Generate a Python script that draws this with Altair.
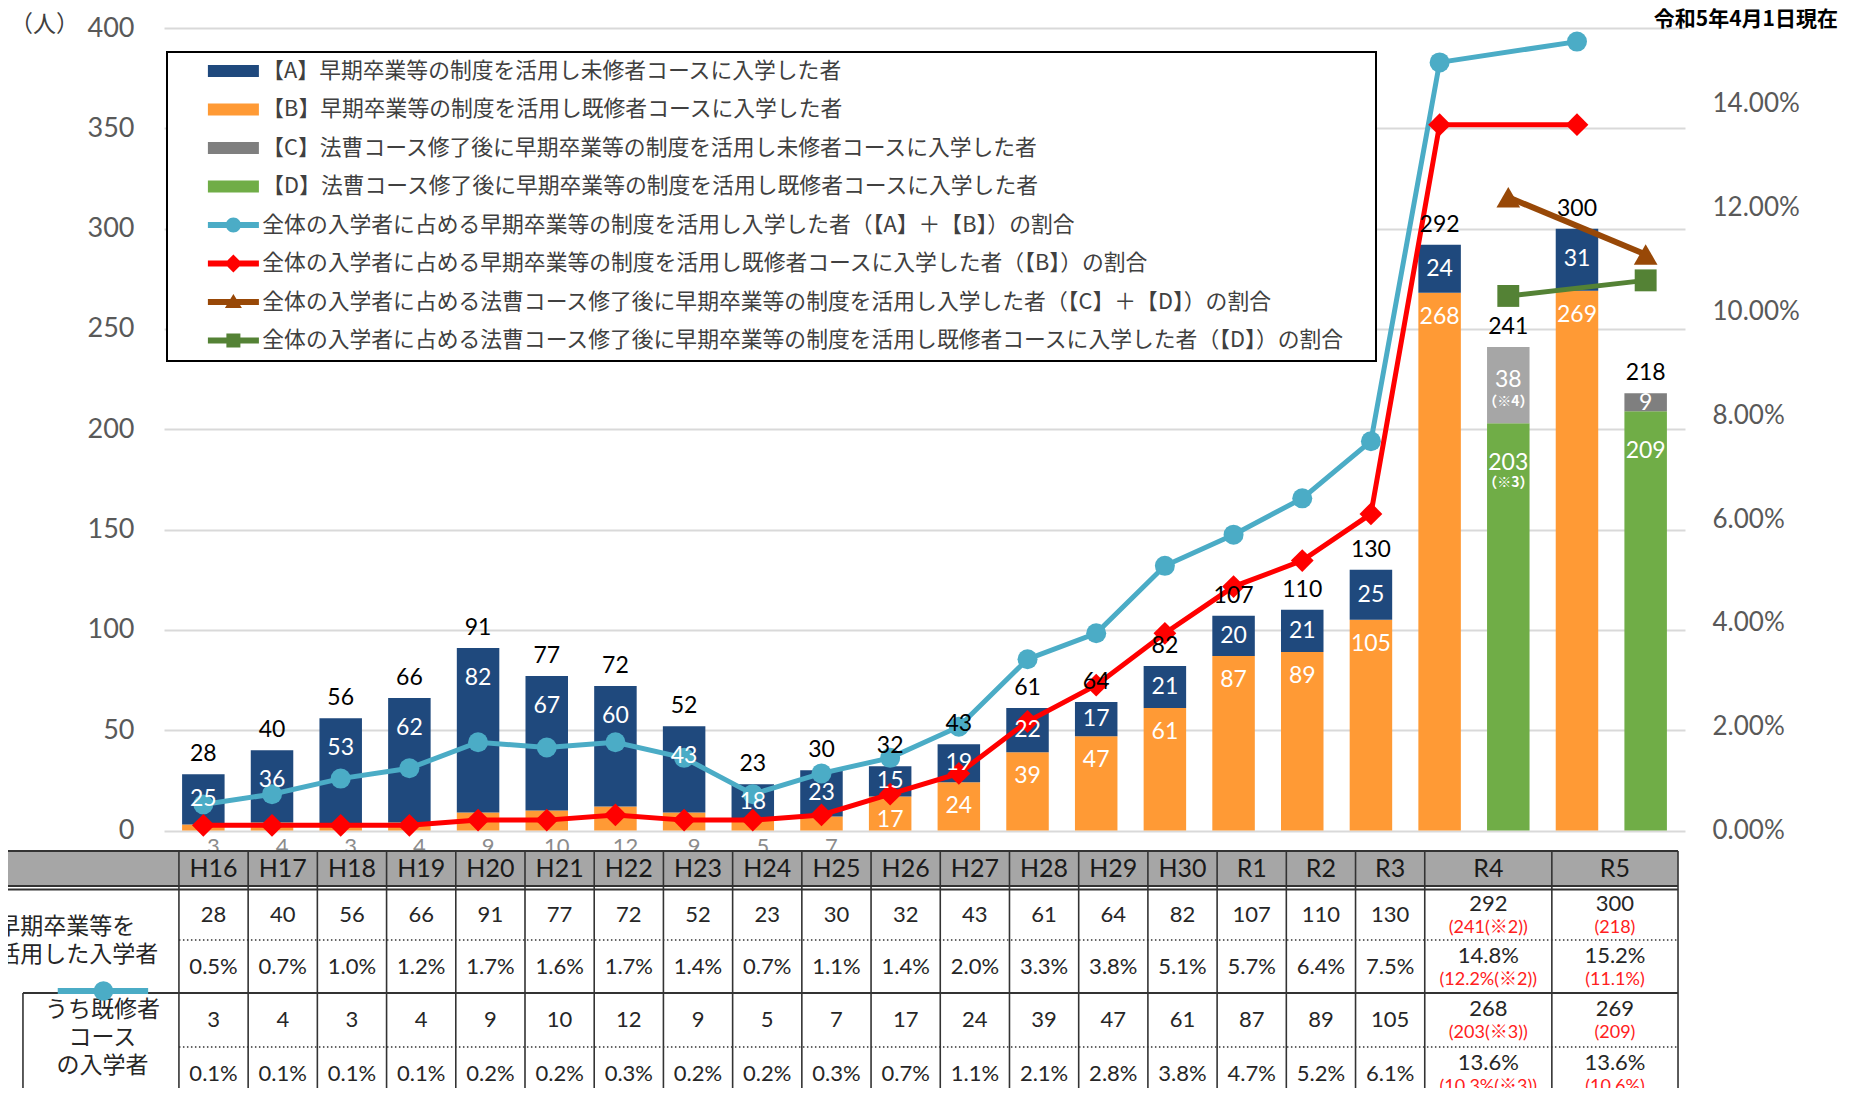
import altair as alt
import pandas as pd

# ---------------- data ----------------
years = ["H16", "H17", "H18", "H19", "H20", "H21", "H22", "H23", "H24", "H25",
         "H26", "H27", "H28", "H29", "H30", "R1", "R2", "R3", "R4", "R5"]
mishu_A = [25, 36, 53, 62, 82, 67, 60, 43, 18, 23, 15, 19, 22, 17, 21, 20, 21, 25, 24, 31]
kishu_B = [3, 4, 3, 4, 9, 10, 12, 9, 5, 7, 17, 24, 39, 47, 61, 87, 89, 105, 268, 269]
total_AB = [28, 40, 56, 66, 91, 77, 72, 52, 23, 30, 32, 43, 61, 64, 82, 107, 110, 130, 292, 300]
rate_AB = [0.5, 0.7, 1.0, 1.2, 1.7, 1.6, 1.7, 1.4, 0.7, 1.1, 1.4, 2.0, 3.3, 3.8, 5.1, 5.7, 6.4, 7.5, 14.8, 15.2]
rate_B = [0.1, 0.1, 0.1, 0.1, 0.2, 0.2, 0.3, 0.2, 0.2, 0.3, 0.7, 1.1, 2.1, 2.8, 3.8, 4.7, 5.2, 6.1, 13.6, 13.6]

law_years = ["R4", "R5"]
law_C = [38, 9]
law_D = [203, 209]
law_total = [241, 218]
rate_CD = [12.2, 11.1]
rate_D = [10.3, 10.6]
law_note_C = ["（※4）", ""]
law_note_D = ["（※3）", ""]
table_note_total = ["(※2)", ""]
table_note_kishu = ["(※3)", ""]
as_of = "令和5年4月1日現在"

series_names = [
    "【A】早期卒業等の制度を活用し未修者コースに入学した者",
    "【B】早期卒業等の制度を活用し既修者コースに入学した者",
    "【C】法曹コース修了後に早期卒業等の制度を活用し未修者コースに入学した者",
    "【D】法曹コース修了後に早期卒業等の制度を活用し既修者コースに入学した者",
    "全体の入学者に占める早期卒業等の制度を活用し入学した者（【A】＋【B】）の割合",
    "全体の入学者に占める早期卒業等の制度を活用し既修者コースに入学した者（【B】）の割合",
    "全体の入学者に占める法曹コース修了後に早期卒業等の制度を活用し入学した者（【C】＋【D】）の割合",
    "全体の入学者に占める法曹コース修了後に早期卒業等の制度を活用し既修者コースに入学した者（【D】）の割合",
]

# ---------------- style ----------------
NAVY, ORANGE, GRAY_D, GRAY_L, GREEN = "#1F497D", "#FF9A35", "#7F7F7F", "#A6A6A6", "#70AD47"
BLUE, RED, BROWN, DGREEN = "#4BACC6", "#FF0000", "#984807", "#548235"
NUM = "Lato, 'Noto Sans CJK JP', sans-serif"
JP = "'Noto Sans CJK JP', sans-serif"

# ---------------- layout ----------------
PAD_L, PAD_T, PAD_R = 156, 20, 161
W, H = 1521, 1060
PL, PT = 8 + PAD_L, 8 + PAD_T
NSLOT = 22
SLOT = W / NSLOT
ZERO_PY = 830.5
PPU = (ZERO_PY - PT) / 400.0
PPP = 51.9


def px2x(p):
    return (p - PL) / SLOT - 0.5


def py2y(p):
    return (ZERO_PY - p) / PPU


X_DOM = [-0.5, NSLOT - 0.5]
Y_DOM = [py2y(PT + H), 400]
R_DOM = [-(PT + H - ZERO_PY) / PPP / 100, (ZERO_PY - PT) / PPP / 100]

xs = alt.Scale(domain=X_DOM, nice=False, zero=False)
ys = alt.Scale(domain=Y_DOM, nice=False, zero=False)
rs = alt.Scale(domain=R_DOM, nice=False, zero=False)

slot_main = list(range(18)) + [18, 20]
slot_law = [19, 21]


def X(field="slot"):
    return alt.X(f"{field}:Q", scale=xs, axis=None)


def YL(field):
    return alt.Y(f"{field}:Q", scale=ys, axis=None)


left_axis = alt.Axis(values=list(range(0, 401, 50)), grid=True, gridColor="#D9D9D9", gridWidth=2,
                     domain=False, ticks=False, labelFont=NUM, labelFontSize=27, labelColor="#595959",
                     labelPadding=30, title="（人）", titleAngle=0, titleX=-120, titleY=-4,
                     titleAlign="center", titleBaseline="middle", titleFont=JP, titleFontSize=23,
                     titleFontWeight="normal", titleColor="#404040")
right_axis = alt.Axis(orient="right", values=[0, 0.02, 0.04, 0.06, 0.08, 0.10, 0.12, 0.14], format=".2%",
                      grid=False, domain=False, ticks=False, labelFont=NUM, labelFontSize=26,
                      labelColor="#595959", labelPadding=27, title=None)

# ---------------- bars ----------------
bar_rows = []
for s, a, b in zip(slot_main, mishu_A, kishu_B):
    bar_rows.append({"slot": s, "lo": 0, "hi": b, "fill": ORANGE})
    bar_rows.append({"slot": s, "lo": b, "hi": b + a, "fill": NAVY})
for s, c, d, cc in zip(slot_law, law_C, law_D, [GRAY_L, GRAY_D]):
    bar_rows.append({"slot": s, "lo": 0, "hi": d, "fill": GREEN})
    bar_rows.append({"slot": s, "lo": d, "hi": d + c, "fill": cc})
bars_df = pd.DataFrame(bar_rows)

bars = alt.Chart(bars_df).mark_bar(size=42.5).encode(
    x=X(), y=alt.Y("lo:Q", scale=ys, axis=left_axis), y2="hi:Q",
    color=alt.Color("fill:N", scale=None))
g1 = alt.layer(bars)

# ---------------- lines ----------------
def line_df(slots, vals, name):
    return pd.DataFrame({"slot": slots, "rate": [v / 100 for v in vals], "series": name})


lines_spec = [
    (line_df(slot_main, rate_AB, series_names[4]), BLUE, "circle", 400, 5),
    (line_df(slot_main, rate_B, series_names[5]), RED, "diamond", 520, 5),
    (line_df(slot_law, rate_CD, series_names[6]), BROWN, "triangle-up", 560, 6),
    (line_df(slot_law, rate_D, series_names[7]), DGREEN, "square", 480, 5),
]
g2_layers = []
for df, col, shp, sz, sw in lines_spec:
    g2_layers.append(alt.Chart(df).mark_line(color=col, strokeWidth=sw).encode(
        x=X(), y=alt.Y("rate:Q", scale=rs, axis=right_axis)))
for df, col, shp, sz, sw in lines_spec:
    g2_layers.append(alt.Chart(df).mark_point(shape=shp, filled=True, size=sz, color=col, opacity=1).encode(
        x=X(), y=alt.Y("rate:Q", scale=rs, axis=right_axis)))

# legend symbols: bar swatches and line+marker icons (custom paths)
EXT = "M113.45,0 "
rect_p = EXT + "M-2.55,-0.6L2.55,-0.6L2.55,0.6L-2.55,0.6Z"
line_p = EXT + "M-2.55,-0.3L2.55,-0.3L2.55,0.3L-2.55,0.3Z "
paths = [rect_p, rect_p, rect_p, rect_p,
         line_p + "M-0.75,0A0.75,0.75 0 1,1 0.75,0A0.75,0.75 0 1,1 -0.75,0Z",
         line_p + "M0,-0.9L0.9,0L0,0.9L-0.9,0Z",
         line_p + "M0,-0.8L0.85,0.6L-0.85,0.6Z",
         line_p + "M-0.7,-0.7L0.7,-0.7L0.7,0.7L-0.7,0.7Z"]
leg_colors = [NAVY, ORANGE, GRAY_D, GREEN, BLUE, RED, BROWN, DGREEN]
leg = alt.Legend(title=None, orient="none", legendX=3, legendY=24, direction="vertical", padding=8,
                 rowPadding=15.5, labelFont=JP, labelFontSize=21.8, labelColor="#404040", labelLimit=1400,
                 labelOffset=18, symbolSize=400, symbolStrokeWidth=0, symbolOffset=47.5,
                 strokeColor="#000000", fillColor="#FFFFFF")
legend_df = pd.DataFrame({"slot": [], "rate": [], "series": []})
legend_layer = alt.Chart(legend_df).mark_point(filled=True, opacity=1).encode(
    x=X(), y=alt.Y("rate:Q", scale=rs, axis=right_axis),
    color=alt.Color("series:N", scale=alt.Scale(domain=series_names, range=leg_colors), legend=leg),
    shape=alt.Shape("series:N", scale=alt.Scale(domain=series_names, range=paths), legend=leg))
g2_layers.append(legend_layer)
g2 = alt.layer(*g2_layers)

# ---------------- labels ----------------
def text_layer(df, yfield, color, size, dy=0, dx=0, font=NUM, weight="normal", align="center"):
    return alt.Chart(df).mark_text(color=color, fontSize=size, dy=dy, dx=dx, font=font,
                                   fontWeight=weight, align=align, baseline="middle").encode(
        x=X(), y=YL(yfield), text="txt:N")


tot_df = pd.DataFrame({"slot": slot_main + slot_law, "y": total_AB + law_total,
                       "txt": [str(v) for v in total_AB + law_total]})
# inside-end placement: centred, but never more than 15 units below the segment top
a_df = pd.DataFrame({"slot": slot_main,
                     "y": [max(b + a / 2, a + b - 15) for a, b in zip(mishu_A, kishu_B)],
                     "txt": [str(a) for a in mishu_A]})
b_in = [(s, b) for s, b in zip(slot_main, kishu_B) if b >= 15]
b_out = [(s, b) for s, b in zip(slot_main, kishu_B) if b < 15]
b_in_df = pd.DataFrame({"slot": [s for s, _ in b_in], "y": [b for _, b in b_in], "txt": [str(b) for _, b in b_in]})
b_out_df = pd.DataFrame({"slot": [s for s, _ in b_out], "y": [0] * len(b_out), "txt": [str(b) for _, b in b_out]})
d_df = pd.DataFrame({"slot": slot_law, "y": law_D, "txt": [str(d) for d in law_D]})
c_n = [(s, d + c / 2, str(c)) for s, c, d, n in zip(slot_law, law_C, law_D, law_note_C) if n]
c_p = [(s, d + c / 2, str(c)) for s, c, d, n in zip(slot_law, law_C, law_D, law_note_C) if not n]
c_n_df = pd.DataFrame({"slot": [v[0] for v in c_n], "y": [v[1] for v in c_n], "txt": [v[2] for v in c_n]})
c_p_df = pd.DataFrame({"slot": [v[0] for v in c_p], "y": [v[1] for v in c_p], "txt": [v[2] for v in c_p]})
nc = [(s, d + c / 2, n) for s, c, d, n in zip(slot_law, law_C, law_D, law_note_C) if n]
nd = [(s, d, n) for s, d, n in zip(slot_law, law_D, law_note_D) if n]
nc_df = pd.DataFrame({"slot": [v[0] for v in nc], "y": [v[1] for v in nc], "txt": [v[2] for v in nc]})
nd_df = pd.DataFrame({"slot": [v[0] for v in nd], "y": [v[1] for v in nd], "txt": [v[2] for v in nd]})

labels = [
    text_layer(tot_df, "y", "#000000", 23, dy=-20),
    text_layer(a_df, "y", "#FFFFFF", 23),
    text_layer(b_in_df, "y", "#FFFFFF", 23, dy=24),
    text_layer(d_df, "y", "#FFFFFF", 23, dy=40),
    text_layer(c_n_df, "y", "#FFFFFF", 23, dy=-5),
    text_layer(c_p_df, "y", "#FFFFFF", 23, dy=1),
    text_layer(nc_df, "y", "#FFFFFF", 14, dy=17, font=JP, weight="bold"),
    text_layer(nd_df, "y", "#FFFFFF", 14, dy=60, font=JP, weight="bold"),
    text_layer(b_out_df, "y", "#8C8C8C", 22, dy=16.5, dx=10),
]

# ---------------- table ----------------
T_TOP, T_HB1, T_HB2, T_R1, T_R2, T_R3 = 851, 886, 889.5, 940, 993, 1047
T_LEFT, T_COL0, T_COLW, T_R4E, T_RIGHT, T_BOX = 0, 174, 69.67, 1556, 1683, 17
edges_px = [T_COL0 + j * T_COLW for j in range(19)] + [T_R4E, T_RIGHT]
centers = [px2x((edges_px[k] + edges_px[k + 1]) / 2) for k in range(20)]
Y_BOT = Y_DOM[0]

head_df = pd.DataFrame({"x1": [px2x(T_LEFT)], "x2": [px2x(T_RIGHT)], "y1": [py2y(T_TOP)], "y2": [py2y(T_HB1)]})
head_rect = alt.Chart(head_df).mark_rect(color="#A6A6A6").encode(
    x=alt.X("x1:Q", scale=xs, axis=None), x2="x2:Q", y=YL("y1"), y2="y2:Q")

vr_df = pd.DataFrame({"x": [px2x(e) for e in edges_px] + [px2x(T_BOX)],
                      "y1": [py2y(T_TOP)] * len(edges_px) + [py2y(T_R2)],
                      "y2": [Y_BOT] * (len(edges_px) + 1)})
vrules = alt.Chart(vr_df).mark_rule(color="#333333", strokeWidth=1.6).encode(
    x=alt.X("x:Q", scale=xs, axis=None), y=YL("y1"), y2="y2:Q")
hs_df = pd.DataFrame({"x1": [px2x(T_LEFT)] * 3 + [px2x(T_BOX)],
                      "x2": [px2x(T_RIGHT)] * 4,
                      "y": [py2y(T_TOP), py2y(T_HB1), py2y(T_HB2), py2y(T_R2)]})
hrules = alt.Chart(hs_df).mark_rule(color="#333333", strokeWidth=1.8).encode(
    x=alt.X("x1:Q", scale=xs, axis=None), x2="x2:Q", y=YL("y"))
hd_df = pd.DataFrame({"x1": [px2x(T_COL0)] * 2, "x2": [px2x(T_RIGHT)] * 2, "y": [py2y(T_R1), py2y(T_R3)]})
hdots = alt.Chart(hd_df).mark_rule(color="#333333", strokeWidth=1.3, strokeDash=[1.5, 2.5]).encode(
    x=alt.X("x1:Q", scale=xs, axis=None), x2="x2:Q", y=YL("y"))

hdr_txt_df = pd.DataFrame({"slot": centers, "y": [py2y((T_TOP + T_HB1) / 2)] * 20, "txt": years})
hdr_txt = text_layer(hdr_txt_df, "y", "#1A1A1A", 25)

row_vals = [
    [str(v) for v in total_AB],
    [f"{v:.1f}%" for v in rate_AB],
    [str(v) for v in kishu_B],
    [f"{v:.1f}%" for v in rate_B],
]
row_subs = [
    [f"({v}{n})" for v, n in zip(law_total, table_note_total)],
    [f"({v:.1f}%{n})" for v, n in zip(rate_CD, table_note_total)],
    [f"({v}{n})" for v, n in zip(law_D, table_note_kishu)],
    [f"({v:.1f}%{n})" for v, n in zip(rate_D, table_note_kishu)],
]
row_bounds = [(T_HB2, T_R1), (T_R1, T_R2), (T_R2, T_R3), (T_R3, T_R3 + 53)]
cell_rows, main2_rows, sub_rows = [], [], []
for r, (top, bot) in enumerate(row_bounds):
    mid = (top + bot) / 2
    for k in range(20):
        if k < 18:
            cell_rows.append({"slot": centers[k], "y": py2y(mid), "txt": row_vals[r][k]})
        else:
            main2_rows.append({"slot": centers[k], "y": py2y(mid - 11), "txt": row_vals[r][k]})
            sub_rows.append({"slot": centers[k], "y": py2y(mid + 13), "txt": row_subs[r][k - 18]})
cells = text_layer(pd.DataFrame(cell_rows), "y", "#262626", 22)
cells2 = text_layer(pd.DataFrame(main2_rows), "y", "#262626", 22)
subs = text_layer(pd.DataFrame(sub_rows), "y", "#FF2020", 18)

lab_df = pd.DataFrame({"slot": [px2x(-9), px2x(-9)], "y": [py2y(927), py2y(955)],
                       "txt": ["早期卒業等を", "活用した入学者"]})
lab1 = text_layer(lab_df, "y", "#262626", 23, font=JP, align="left")
lab2_df = pd.DataFrame({"slot": [px2x(97)] * 3, "y": [py2y(1010), py2y(1038), py2y(1066)],
                        "txt": ["うち既修者", "コース", "の入学者"]})
lab2 = text_layer(lab2_df, "y", "#262626", 23, font=JP)
icon_line_df = pd.DataFrame({"x1": [px2x(52)], "x2": [px2x(143)], "y": [py2y(991)]})
icon_line = alt.Chart(icon_line_df).mark_rule(color=BLUE, strokeWidth=6).encode(
    x=alt.X("x1:Q", scale=xs, axis=None), x2="x2:Q", y=YL("y"))
icon_pt_df = pd.DataFrame({"slot": [px2x(98)], "y": [py2y(991)]})
icon_pt = alt.Chart(icon_pt_df).mark_point(shape="circle", filled=True, size=380, color=BLUE, opacity=1).encode(
    x=X(), y=YL("y"))

date_df = pd.DataFrame({"slot": [px2x(1844)], "y": [py2y(20)], "txt": [as_of]})
date_txt = text_layer(date_df, "y", "#000000", 21, font=JP, weight="bold", align="right")

table = [head_rect, hdots, vrules, hrules, hdr_txt, cells, cells2, subs, lab1, lab2, icon_line, icon_pt, date_txt]

g3 = alt.layer(*labels, *table)

chart = alt.layer(g1, g2, g3).resolve_scale(y="independent").properties(
    width=W, height=H,
    padding={"left": PAD_L, "top": PAD_T, "right": PAD_R, "bottom": 0},
    autosize=alt.AutoSizeParams(type="none"),
).configure_view(strokeWidth=0).configure_legend(strokeWidth=2)

chart.save("out.html", embed_options={"renderer": "svg", "actions": False})
